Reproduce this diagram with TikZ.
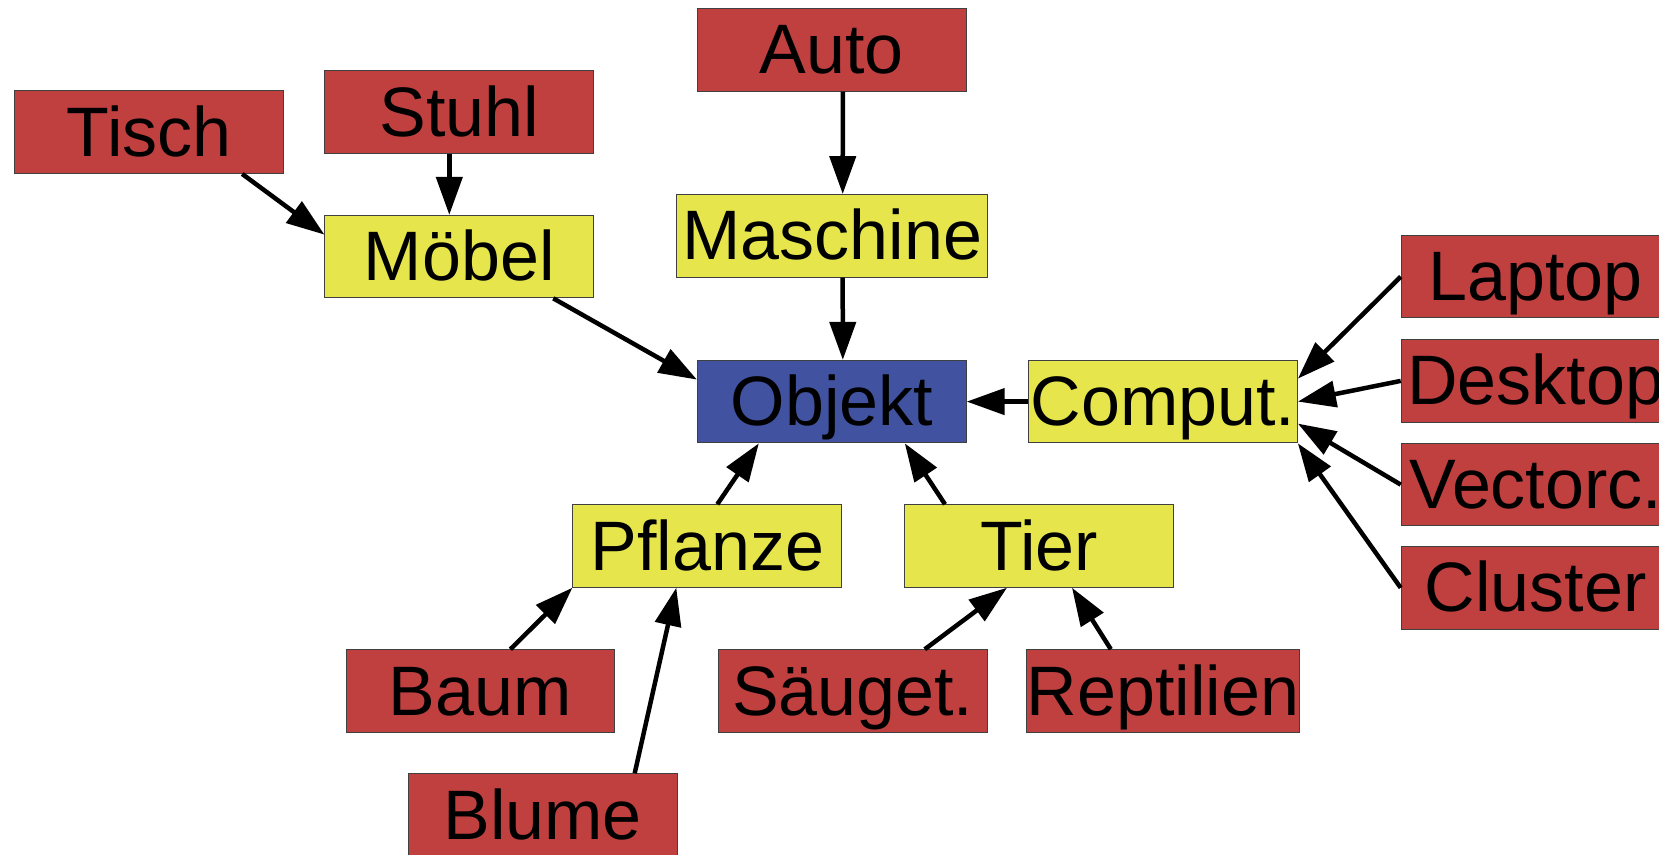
\documentclass[tikz,border=0pt]{standalone}
\usepackage{fontspec}
\setmainfont{Liberation Sans}
\usepackage{xcolor}
\usetikzlibrary{arrows.meta}
\definecolor{leafred}{RGB}{192,64,64}
\definecolor{midyellow}{RGB}{230,230,76}
\definecolor{rootblue}{RGB}{64,82,160}

\begin{document}
\begin{tikzpicture}[x=1pt,y=-1pt,
                >={Triangle[length=38pt,width=26pt]},
                link/.style={->,line width=4.5pt},
                box/.style={draw=black!75,line width=1pt,minimum width=268.8pt,minimum height=82.5pt,inner sep=0pt,text height=48pt,text depth=0pt,font=\fontsize{70}{80}\selectfont},
                leaf/.style={box,fill=leafred},
                mid/.style={box,fill=midyellow},
                root/.style={box,fill=rootblue}]
                \node[leaf] (tisch) at (149.2,132.2) {Tisch};
                \node[leaf] (stuhl) at (459.3,112.2) {Stuhl};
                \node[leaf] (auto) at (831.8,49.8) {Auto};
                \node[mid] (moebel) at (459.3,256.6) {Möbel};
                \node[mid,minimum width=311pt] (maschine) at (832.2,235.8) {Maschine};
                \node[root] (objekt) at (831.8,401.6) {Objekt};
                \node[mid] (comput) at (1163,401.6) {Comput.};
                \node[leaf] (laptop) at (1535.6,276.7) {Laptop};
                \node[leaf] (desktop) at (1535.6,380.9) {Desktop};
                \node[leaf] (vectorc) at (1535.6,484.6) {Vectorc.};
                \node[leaf] (cluster) at (1535.6,587.8) {Cluster};
                \node[mid] (pflanze) at (707.3,546) {Pflanze};
                \node[mid] (tier) at (1039,546) {Tier};
                \node[leaf] (baum) at (480.4,691) {Baum};
                \node[leaf] (saeuget) at (852.8,691) {Säuget.};
                \node[leaf] (reptilien) at (1162.8,691) {Reptilien};
                \node[leaf] (blume) at (542.7,815) {Blume};
                \draw[link] ([xshift=93pt]tisch.south) -- ([yshift=22pt]moebel.west);
                \draw[link] ([xshift=-10pt]stuhl.south) -- ([xshift=-10pt]moebel.north);
                \draw[link] ([xshift=11pt]auto.south) -- ([xshift=10.5pt]maschine.north);
                \draw[link] ([xshift=10.5pt]maschine.south) -- ([xshift=11pt]objekt.north);
                \draw[link] ([xshift=94pt]moebel.south) -- ([yshift=22pt]objekt.west);
                \draw[link] (comput.west) -- (objekt.east);
                \draw[link] (laptop.west) -- ([yshift=23pt]comput.east);
                \draw[link] (desktop.west) -- (comput.east);
                \draw[link] (vectorc.west) -- ([yshift=-22pt]comput.east);
                \draw[link] (cluster.west) -- (comput.south east);
                \draw[link] ([xshift=10pt]pflanze.north) -- ([xshift=-73pt]objekt.south);
                \draw[link] ([xshift=-94pt]tier.north) -- ([xshift=73pt]objekt.south);
                \draw[link] ([xshift=30pt]baum.north) -- (pflanze.south west);
                \draw[link] ([xshift=92pt]blume.north) -- ([xshift=-31pt]pflanze.south);
                \draw[link] ([xshift=72pt]saeuget.north) -- ([xshift=-32pt]tier.south);
                \draw[link] ([xshift=-52pt]reptilien.north) -- ([xshift=33pt]tier.south);
                \pgfresetboundingbox
                \path[use as bounding box] (0,0) rectangle (1659,854);
            \end{tikzpicture}
\end{document}
